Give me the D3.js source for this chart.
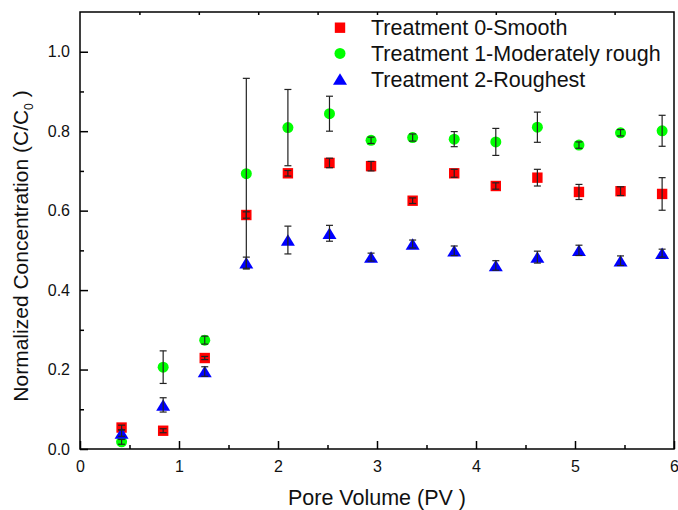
<!DOCTYPE html>
<meta charset="utf-8">
<style>
  body { margin: 0; background: #fff; }
  text { font-family: "Liberation Sans", Arial, sans-serif; fill: #111; }
  .tick text { font-size: 16px; }
  .axis path.domain { display: none; }
  .axis line { stroke: #000; stroke-width: 1.5px; }
  .err line { stroke: #222; stroke-width: 1.2px; }
</style>
<body>
<svg width="678" height="510"></svg>
</body>
<script src="https://d3js.org/d3.v7.min.js"></script>
<script>
    // pore volume at each sampling
    let pv = [0.42, 0.84, 1.26, 1.68, 2.10, 2.52, 2.94, 3.36, 3.78, 4.20, 4.62, 5.04, 5.46, 5.88];

    let t0_smooth = [0.054, 0.046, 0.229, 0.589, 0.694, 0.720, 0.712, 0.625, 0.694, 0.662, 0.683, 0.647, 0.649, 0.642];
    let t0_err    = [0.006, 0.005, 0.004, 0.008, 0.007, 0.012, 0.012, 0.007, 0.010, 0.008, 0.021, 0.019, 0.011, 0.041];

    let t1_moderate = [0.018, 0.206, 0.274, 0.693, 0.809, 0.844, 0.777, 0.784, 0.780, 0.773, 0.810, 0.765, 0.796, 0.801];
    let t1_err      = [0.006, 0.041, 0.010, 0.240, 0.096, 0.044, 0.008, 0.009, 0.019, 0.034, 0.038, 0.008, 0.008, 0.039];

    let t2_roughest = [0.040, 0.111, 0.195, 0.469, 0.526, 0.543, 0.483, 0.516, 0.499, 0.462, 0.483, 0.500, 0.474, 0.493];
    let t2_err      = [0.008, 0.018, 0.012, 0.014, 0.035, 0.020, 0.010, 0.010, 0.012, 0.012, 0.015, 0.013, 0.012, 0.010];

    let series_names = ["Treatment 0-Smooth", "Treatment 1-Moderately rough", "Treatment 2-Roughest"];
    let x_ticks = [0, 1, 2, 3, 4, 5, 6];
    let y_ticks = [0.0, 0.2, 0.4, 0.6, 0.8, 1.0];

    let RED = "#ff0000";
    let GREEN = "#00ff00";
    let BLUE = "#0000ff";

    var svg = d3.select("svg");
    let plot_left = 80, plot_right = 674, plot_top = 12, plot_bottom = 449;

    var x = d3.scaleLinear().domain([0, 6]).range([plot_left, plot_right]);
    var y = d3.scaleLinear().domain([0, 1.1]).range([plot_bottom, plot_top]);

    // bottom axis, ticks pointing inward
    svg.append("g")
        .attr("class", "axis")
        .attr("transform", "translate(0," + plot_bottom + ")")
        .call(d3.axisBottom(x).tickValues(d3.range(0.5, 6, 1)).tickSize(-4).tickSizeOuter(0).tickFormat(""));
    svg.append("g")
        .attr("class", "axis")
        .attr("transform", "translate(0," + plot_bottom + ")")
        .call(d3.axisBottom(x).tickValues(x_ticks).tickSize(-8).tickSizeOuter(0).tickPadding(12).tickFormat(d3.format("d")));

    // left axis
    svg.append("g")
        .attr("class", "axis")
        .attr("transform", "translate(" + plot_left + ",0)")
        .call(d3.axisLeft(y).tickValues(d3.range(0.1, 1.1, 0.2)).tickSize(-4).tickSizeOuter(0).tickFormat(""));
    svg.append("g")
        .attr("class", "axis")
        .attr("transform", "translate(" + plot_left + ",0)")
        .call(d3.axisLeft(y).tickValues(y_ticks).tickSize(-8).tickSizeOuter(0).tickPadding(10).tickFormat(d3.format(".1f")));

    // top axis: small ticks only
    svg.append("g")
        .attr("class", "axis")
        .attr("transform", "translate(0," + plot_top + ")")
        .call(d3.axisTop(x).tickValues(d3.range(0.6, 5.9, 0.6)).tickSize(-3).tickSizeOuter(0).tickFormat(""));

    // frame
    svg.append("rect")
        .attr("x", plot_left).attr("y", plot_top)
        .attr("width", plot_right - plot_left).attr("height", plot_bottom - plot_top)
        .attr("fill", "none").attr("stroke", "#000").attr("stroke-width", 1.5);

    function square(s) { return "M" + (-s) + "," + (-s) + "h" + (2 * s) + "v" + (2 * s) + "h" + (-2 * s) + "Z"; }
    function triangle(w, h) { return "M0," + (-h / 2) + "L" + (w / 2) + "," + (h / 2) + "L" + (-w / 2) + "," + (h / 2) + "Z"; }

    let series = [
        { name: series_names[0], vals: t0_smooth, errs: t0_err, color: RED, shape: "square" },
        { name: series_names[1], vals: t1_moderate, errs: t1_err, color: GREEN, shape: "circle" },
        { name: series_names[2], vals: t2_roughest, errs: t2_err, color: BLUE, shape: "triangle" }
    ];

    function draw_marker(g, s) {
        if (s.shape == "circle") {
            return g.append("circle").attr("r", 5.5).attr("fill", s.color);
        }
        let d = s.shape == "square" ? square(5.2) : triangle(14, 11.5);
        return g.append("path").attr("d", d).attr("fill", s.color);
    }

    series.forEach(function(s) {
        let pts = svg.append("g").selectAll("g")
            .data(pv.map(function(p, i) { return { x: p, v: s.vals[i], e: s.errs[i] }; }))
            .enter().append("g")
                .attr("transform", function(d) { return "translate(" + x(d.x) + "," + y(d.v) + ")"; });
        pts.each(function() { draw_marker(d3.select(this), s); });
    });

    // error bars on top of markers
    series.forEach(function(s) {
        let eb = svg.append("g").attr("class", "err").selectAll("g")
            .data(pv.map(function(p, i) { return { x: p, v: s.vals[i], e: s.errs[i] }; }))
            .enter().append("g");
        eb.append("line")
            .attr("x1", function(d) { return x(d.x); }).attr("x2", function(d) { return x(d.x); })
            .attr("y1", function(d) { return y(d.v + d.e); }).attr("y2", function(d) { return y(d.v - d.e); });
        [1, -1].forEach(function(sign) {
            eb.append("line")
                .attr("x1", function(d) { return x(d.x) - 3.5; }).attr("x2", function(d) { return x(d.x) + 3.5; })
                .attr("y1", function(d) { return y(d.v + sign * d.e); }).attr("y2", function(d) { return y(d.v + sign * d.e); });
        });
    });

    // legend
    let legend = svg.append("g");
    series.forEach(function(s, i) {
        let cy = 27.7 + i * 25.7;
        let g = legend.append("g").attr("transform", "translate(340," + cy + ")");
        draw_marker(g, s);
        legend.append("text")
            .attr("x", 371).attr("y", cy + 7.5)
            .style("font-size", "21.5px")
            .text(s.name);
    });

    // axis titles
    svg.append("text")
        .attr("x", (plot_left + plot_right) / 2).attr("y", 505)
        .attr("text-anchor", "middle")
        .style("font-size", "21.5px")
        .text("Pore Volume (PV )");

    let ytitle = svg.append("text")
        .attr("transform", "translate(28,246) rotate(-90)")
        .attr("text-anchor", "middle")
        .style("font-size", "21px");
    ytitle.append("tspan").text("Normalized Concentration (C/C");
    ytitle.append("tspan").attr("dy", 5).style("font-size", "12px").text("0");
    ytitle.append("tspan").attr("dy", -5).text(" )");
</script>
